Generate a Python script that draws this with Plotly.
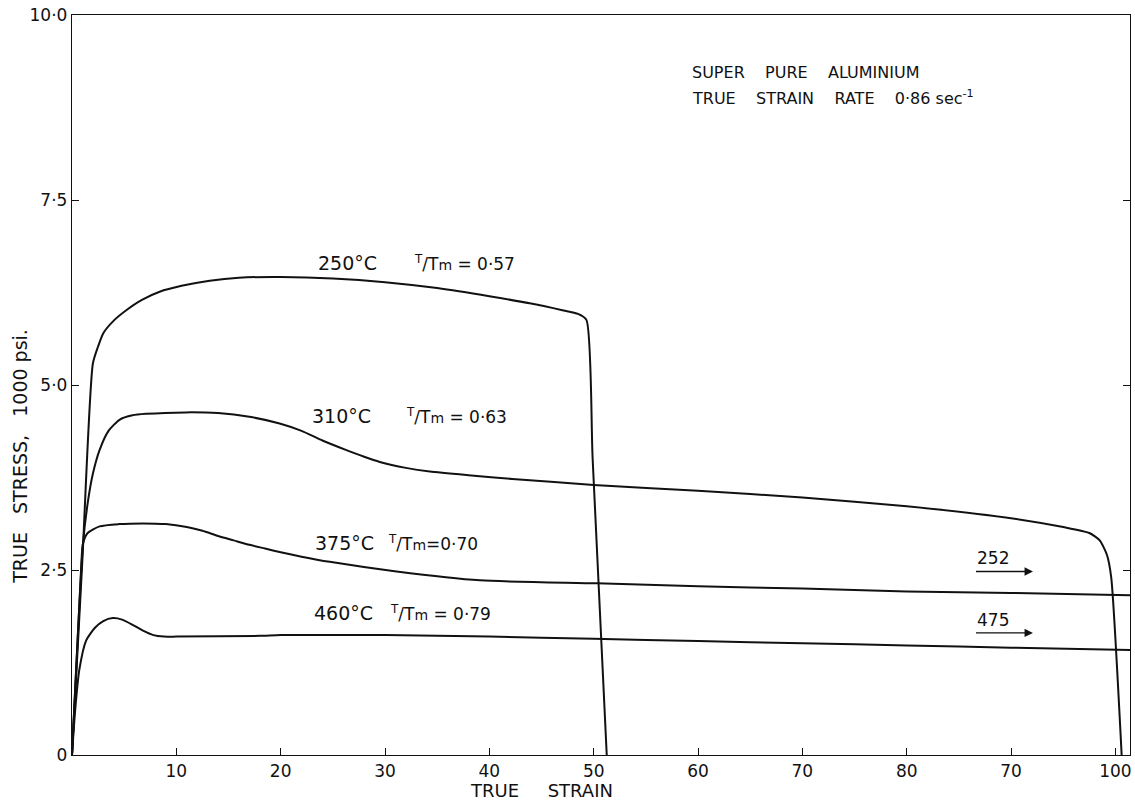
import plotly.graph_objects as go

# ---- data ----
x_250 = [0, 1.0, 2.0, 2.5, 3.0, 4.0, 5.2, 6.7, 8.4, 10.5, 13.2, 16, 20, 25, 30, 35, 40, 44, 47, 48.5, 49.3, 49.9, 51.25]
y_250 = [0, 2.65, 5.29, 5.52, 5.70, 5.87, 6.01, 6.15, 6.26, 6.34, 6.41, 6.45, 6.46, 6.44, 6.39, 6.31, 6.2, 6.1, 6.01, 5.96, 5.88, 4.0, 0]

x_310 = [0, 1.05, 1.5, 2.0, 2.64, 3.5, 4.55, 5.8, 7.1, 10.9, 14, 17, 19.9, 22, 24, 26.3, 28, 29.5, 32, 34.3, 38, 42.2, 50, 60, 70, 80, 90, 95, 97.5, 98.5, 99.2, 99.6, 100.6]
y_310 = [0, 2.85, 3.4, 3.8, 4.12, 4.38, 4.53, 4.59, 4.61, 4.63, 4.62, 4.57, 4.48, 4.38, 4.25, 4.12, 4.03, 3.96, 3.88, 3.83, 3.78, 3.73, 3.65, 3.57, 3.48, 3.36, 3.2, 3.08, 3.0, 2.9, 2.7, 2.4, 0]

x_375 = [0, 0.9, 1.04, 1.5, 2.64, 4.5, 6.8, 9, 11, 12.5, 14, 15.5, 17, 18.5, 20, 22, 24.7, 31.1, 39.1, 50.3, 60, 70, 80, 90, 101.4]
y_375 = [0, 2.6, 2.85, 3.0, 3.09, 3.12, 3.13, 3.12, 3.08, 3.03, 2.96, 2.9, 2.84, 2.79, 2.74, 2.68, 2.61, 2.48, 2.36, 2.32, 2.28, 2.25, 2.21, 2.19, 2.16]

x_460 = [0, 0.3, 0.7, 1.36, 2.2, 3.0, 3.9, 4.8, 5.8, 6.8, 7.8, 8.8, 10, 18, 20, 30, 40, 50, 60, 70, 80, 90, 101.4]
y_460 = [0, 0.6, 1.15, 1.55, 1.72, 1.81, 1.85, 1.83, 1.76, 1.68, 1.62, 1.6, 1.6, 1.61, 1.62, 1.62, 1.6, 1.57, 1.54, 1.51, 1.48, 1.45, 1.42]

x_tickvals = [10, 20, 30, 40, 50, 60, 70, 80, 90, 100]
x_ticktext = ["10", "20", "30", "40", "50", "60", "70", "80", "70", "100"]
y_tickvals = [0, 2.5, 5.0, 7.5, 10.0]
y_ticktext = ["0", "2·5", "5·0", "7·5", "10·0"]

labels_temp = ["250°C", "310°C", "375°C", "460°C"]
labels_ratio = [" = 0·57", " = 0·63", "=0·70", " = 0·79"]
label_x_temp = [23.4, 22.8, 23.1, 23.0]
label_x_ratio = [32.6, 31.8, 30.1, 30.3]
label_y = [6.65, 4.58, 2.86, 1.92]

FONT = "DejaVu Sans"
INK = "#111111"
SP = "\u00a0"

fig = go.Figure()
for xs, ys in [(x_250, y_250), (x_310, y_310), (x_375, y_375), (x_460, y_460)]:
    fig.add_trace(go.Scatter(x=xs, y=ys, mode="lines",
                             line=dict(color=INK, width=2, shape="spline", smoothing=0.6),
                             showlegend=False, hoverinfo="skip"))

annotations = []
for t, r, xt, xr, yy in zip(labels_temp, labels_ratio, label_x_temp, label_x_ratio, label_y):
    annotations.append(dict(x=xt, y=yy, xref="x", yref="y", text=t, showarrow=False,
                            xanchor="left", yanchor="middle", font=dict(family=FONT, size=19, color=INK)))
    annotations.append(dict(x=xr, y=yy, xref="x", yref="y",
                            text="<sup>T</sup>/T<span style='font-size:14px'>m</span>" + r.replace(" ", SP),
                            showarrow=False, xanchor="left", yanchor="middle",
                            font=dict(family=FONT, size=17, color=INK)))

# arrows with numbers
for num, yy_txt, yy_arr in [("252", 2.66, 2.48), ("475", 1.82, 1.65)]:
    annotations.append(dict(x=86.5, y=yy_txt, xref="x", yref="y", text=num, showarrow=False,
                            xanchor="left", yanchor="middle", font=dict(family=FONT, size=17, color=INK)))
    annotations.append(dict(x=92.1, y=yy_arr, xref="x", yref="y", ax=86.5, ay=yy_arr,
                            axref="x", ayref="y", text="", showarrow=True,
                            arrowhead=2, arrowsize=1.2, arrowwidth=1.4, arrowcolor=INK))

# title block
annotations.append(dict(x=59.2, y=9.22, xref="x", yref="y", xanchor="left", yanchor="middle",
                        text="SUPER" + SP * 4 + "PURE" + SP * 4 + "ALUMINIUM", showarrow=False,
                        font=dict(family=FONT, size=16, color=INK)))
annotations.append(dict(x=59.2, y=8.89, xref="x", yref="y", xanchor="left", yanchor="middle",
                        text="TRUE" + SP * 4 + "STRAIN" + SP * 4 + "RATE" + SP * 4 + "0·86" + SP + "sec<sup>-1</sup>",
                        showarrow=False, font=dict(family=FONT, size=16, color=INK)))

# axis titles
annotations.append(dict(x=0.444, y=0, xref="paper", yref="paper", yshift=-35,
                        text="TRUE" + SP * 5 + "STRAIN", showarrow=False, xanchor="center", yanchor="middle",
                        font=dict(family=FONT, size=18, color=INK)))
annotations.append(dict(x=0, y=0.403, xref="paper", yref="paper", xshift=-52,
                        text="TRUE" + SP * 3 + "STRESS," + SP * 3 + "1000" + SP + "psi.", textangle=-90, showarrow=False,
                        xanchor="center", yanchor="middle",
                        font=dict(family=FONT, size=19, color=INK)))

fig.update_layout(
    width=1135, height=802,
    margin=dict(l=72, r=5, t=15, b=47),
    paper_bgcolor="white", plot_bgcolor="white",
    annotations=annotations,
    xaxis=dict(range=[0, 101.4], tickvals=x_tickvals, ticktext=x_ticktext, automargin=False,
               ticks="inside", ticklen=7, tickwidth=1.3, tickcolor=INK,
               showline=True, linecolor=INK, linewidth=1.4, mirror=True,
               showgrid=False, zeroline=False,
               tickfont=dict(family=FONT, size=17, color=INK)),
    yaxis=dict(range=[0, 10], tickvals=y_tickvals, ticktext=y_ticktext, automargin=False,
               ticks="inside", ticklen=7, tickwidth=1.3, tickcolor=INK,
               showline=True, linecolor=INK, linewidth=1.4, mirror="ticks",
               showgrid=False, zeroline=False,
               tickfont=dict(family=FONT, size=17, color=INK)),
)

fig.write_html("out.html", config={"displayModeBar": False},
               post_script="document.body.style.margin='0';document.body.style.overflow='hidden';")
